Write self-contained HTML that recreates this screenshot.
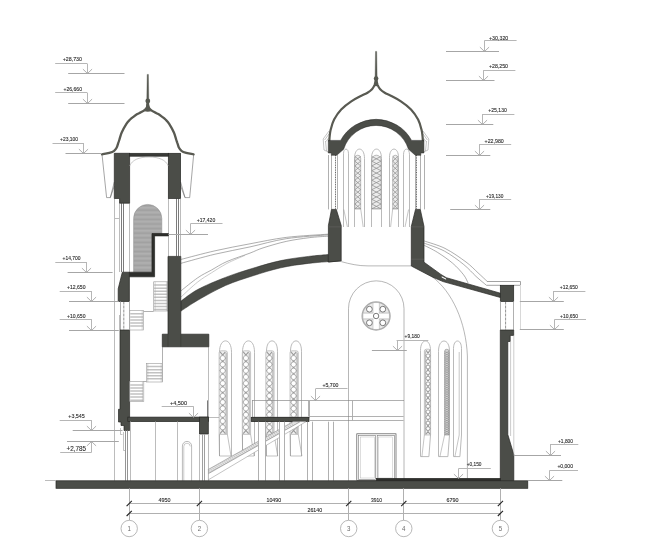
<!DOCTYPE html>
<html lang="ru">
<head>
<meta charset="utf-8">
<title>Section 1-5</title>
<style>
html,body{margin:0;padding:0;background:#fff;}
body{width:650px;height:554px;overflow:hidden;}
svg{display:block;}
svg text{font-family:"Liberation Sans","DejaVu Sans",sans-serif;}
</style>
</head>
<body>
<svg width="650" height="554" viewBox="0 0 650 554">
<rect x="0" y="0" width="650" height="554" fill="#fff"/>
<line x1="114.5" y1="198.5" x2="114.5" y2="480.8" stroke="#bcbcbc" stroke-width="1" />
<line x1="119.5" y1="198.5" x2="119.5" y2="272.0" stroke="#bcbcbc" stroke-width="1" />
<line x1="121.5" y1="203.2" x2="121.5" y2="272.0" stroke="#7c7c7c" stroke-width="1" />
<line x1="123.5" y1="203.2" x2="123.5" y2="272.0" stroke="#7c7c7c" stroke-width="1" />
<line x1="129.5" y1="203.2" x2="129.5" y2="272.0" stroke="#bcbcbc" stroke-width="1" />
<line x1="114.6" y1="218.5" x2="119.6" y2="218.5" stroke="#bcbcbc" stroke-width="1" />
<line x1="168.5" y1="198.5" x2="168.5" y2="256.4" stroke="#bcbcbc" stroke-width="1" />
<line x1="180.5" y1="198.5" x2="180.5" y2="256.4" stroke="#bcbcbc" stroke-width="1" />
<line x1="176.5" y1="198.5" x2="176.5" y2="256.4" stroke="#7c7c7c" stroke-width="1" />
<line x1="178.5" y1="198.5" x2="178.5" y2="256.4" stroke="#7c7c7c" stroke-width="1" />
<path d="M102,154.3 L106.6,197.6 L110.3,197.6 L114.3,182 M114.3,186 L110.3,197.6" fill="none" stroke="#6a6a6a" stroke-width="0.6" />
<path d="M193.7,154.3 L189.7,197.6 L185,197.6 L180.6,182 M180.6,186 L185,197.6" fill="none" stroke="#6a6a6a" stroke-width="0.6" />
<path d="M102.0,154.3 C103.2,154.1 107.4,153.5 109.4,152.9 C111.4,152.3 113.0,151.7 114.2,150.8 C115.4,150.0 115.9,149.1 116.6,147.8 C117.3,146.5 117.8,144.4 118.2,143.1 C118.7,141.8 118.7,141.8 119.3,140.0 C119.9,138.2 120.5,135.2 121.7,132.5 C122.9,129.8 125.0,126.0 126.4,123.8 C127.8,121.6 128.9,120.7 130.1,119.5 C131.3,118.3 132.5,117.5 133.7,116.6 C134.9,115.7 136.1,114.8 137.3,114.1 C138.5,113.4 139.7,113.0 140.9,112.3 C142.1,111.6 143.5,110.9 144.5,110.1 C145.5,109.3 146.2,108.5 146.8,107.5 C147.4,106.5 147.6,104.6 147.8,104.0 " fill="none" stroke="#595a52" stroke-width="2.3" stroke-linecap="round"/>
<path d="M147.8,104.0 C148.0,104.6 148.2,106.5 148.8,107.5 C149.4,108.5 150.1,109.3 151.1,110.1 C152.1,110.9 153.5,111.6 154.7,112.3 C155.9,113.0 157.1,113.4 158.3,114.1 C159.5,114.8 160.7,115.7 161.9,116.6 C163.1,117.5 164.3,118.3 165.5,119.5 C166.7,120.7 167.8,121.6 169.2,123.8 C170.6,126.0 172.7,129.8 173.9,132.5 C175.1,135.2 175.7,138.2 176.3,140.0 C176.9,141.8 177.0,141.8 177.4,143.1 C177.9,144.4 178.3,146.5 179.0,147.8 C179.7,149.1 180.2,150.0 181.4,150.8 C182.6,151.7 184.2,152.3 186.2,152.9 C188.2,153.5 192.4,154.1 193.6,154.3 " fill="none" stroke="#595a52" stroke-width="2.3" stroke-linecap="round"/>
<path d="M143.60000000000002,111.0 Q146.8,108.6 146.9,102 L148.70000000000002,102 Q148.8,108.6 152.0,111.0 Q147.8,112.4 143.60000000000002,111.0 Z" fill="#595a52" stroke="none" stroke-width="0" />
<path d="M147.20000000000002,74.4 L148.4,74.4 L148.8,99 L149.10000000000002,110 L146.5,110 L146.8,99 Z" fill="#565850" stroke="#565850" stroke-width="0.4" />
<circle cx="147.8" cy="101" r="2.4" fill="#565850"/>
<polygon points="114.3,153.3 129.6,153.3 129.6,203.2 119.6,203.2 119.6,198.5 114.3,198.5" fill="#4b4d48" stroke="#262724" stroke-width="0.7" />
<rect x="168.3" y="153.3" width="12.3" height="45.2" fill="#4b4d48" stroke="#262724" stroke-width="0.7"/>
<rect x="129.6" y="153.3" width="38.7" height="2.9" fill="#3a3b38" stroke="#262724" stroke-width="0.7"/>
<path d="M129.6,166 C132,160 139,157 149,157 C159,157 166,160 168.3,166" fill="none" stroke="#a8a8a8" stroke-width="0.6" />
<defs><pattern id="gh" width="4" height="4.6" patternUnits="userSpaceOnUse"><rect width="4" height="4.6" fill="#a7a7a7"/><rect y="0" width="4" height="1.6" fill="#b0b0b0"/><rect y="2.8" width="4" height="0.9" fill="#a0a0a0"/></pattern></defs>
<path d="M133.6,272.2 L133.6,218.5 A14.1,14.1 0 0 1 161.8,218.5 L161.8,233.7 L152,233.7 L152,272.2 Z" fill="url(#gh)" stroke="#8a8a8a" stroke-width="0.5" />
<polygon points="152.0,233.5 168.4,233.5 168.4,235.9 154.6,235.9 154.6,276.8 129.4,276.8 129.4,272.2 152.0,272.2" fill="#2e2f2c" stroke="#262724" stroke-width="0.7" />
<polygon points="122.3,272.2 129.4,272.2 129.4,301.5 118.2,301.5 118.2,288.8" fill="#4b4d48" stroke="#262724" stroke-width="0.7" />
<line x1="120.5" y1="301.5" x2="120.5" y2="330.0" stroke="#b0b0b0" stroke-width="1" />
<line x1="129.5" y1="301.5" x2="129.5" y2="330.0" stroke="#b0b0b0" stroke-width="1" />
<line x1="123.8" y1="301.5" x2="123.8" y2="330.0" stroke="#444" stroke-width="0.6" stroke-dasharray="3 1"/>
<line x1="119.5" y1="315.0" x2="119.5" y2="330.0" stroke="#bcbcbc" stroke-width="1" />
<polygon points="120.0,330.0 129.6,330.0 129.6,430.5 124.0,430.5 124.0,425.5 121.0,425.5 121.0,422.0 118.5,422.0 118.5,409.3 120.0,409.3" fill="#4b4d48" stroke="#262724" stroke-width="0.7" />
<rect x="153.7" y="281.8" width="14.1" height="29.2" fill="#fff" stroke="#999" stroke-width="0.6"/>
<path d="M154.1,285.1 H167.4 M154.1,288.2 H167.4 M154.1,291.2 H167.4 M154.1,294.3 H167.4 M154.1,297.3 H167.4 M154.1,300.4 H167.4 M154.1,303.4 H167.4 M154.1,306.5 H167.4 M154.1,309.5 H167.4 " fill="none" stroke="#c2c2c2" stroke-width="1.5" />
<path d="M166.4,281.8 V311.0" fill="none" stroke="#aaa" stroke-width="0.5" />
<path d="M155.1,281.8 V311.0" fill="none" stroke="#aaa" stroke-width="0.5" />
<rect x="129.8" y="310.5" width="13.8" height="19.5" fill="#fff" stroke="#999" stroke-width="0.6"/>
<path d="M130.2,313.8 H143.2 M130.2,316.9 H143.2 M130.2,319.9 H143.2 M130.2,323.0 H143.2 M130.2,326.0 H143.2 " fill="none" stroke="#c2c2c2" stroke-width="1.5" />
<path d="M142.2,310.5 V330.0" fill="none" stroke="#aaa" stroke-width="0.5" />
<rect x="146.4" y="363.3" width="16.2" height="18.7" fill="#fff" stroke="#999" stroke-width="0.6"/>
<path d="M146.8,366.6 H162.2 M146.8,369.7 H162.2 M146.8,372.7 H162.2 M146.8,375.8 H162.2 M146.8,378.8 H162.2 " fill="none" stroke="#c2c2c2" stroke-width="1.5" />
<path d="M161.2,363.3 V382.0" fill="none" stroke="#aaa" stroke-width="0.5" />
<path d="M147.8,363.3 V382.0" fill="none" stroke="#aaa" stroke-width="0.5" />
<rect x="129.8" y="381.6" width="14.0" height="19.8" fill="#fff" stroke="#999" stroke-width="0.6"/>
<path d="M130.2,384.9 H143.4 M130.2,388.0 H143.4 M130.2,391.0 H143.4 M130.2,394.1 H143.4 M130.2,397.1 H143.4 M130.2,400.2 H143.4 " fill="none" stroke="#c2c2c2" stroke-width="1.5" />
<path d="M142.4,381.6 V401.4" fill="none" stroke="#aaa" stroke-width="0.5" />
<line x1="162.5" y1="346.8" x2="162.5" y2="381.8" stroke="#b0b0b0" stroke-width="1" />
<line x1="208.5" y1="346.8" x2="208.5" y2="417.0" stroke="#bcbcbc" stroke-width="1" />
<line x1="207.5" y1="400.4" x2="207.5" y2="417.0" stroke="#7c7c7c" stroke-width="1" />
<line x1="208.8" y1="417.5" x2="219.0" y2="417.5" stroke="#bcbcbc" stroke-width="1" />
<line x1="143.4" y1="311.5" x2="153.7" y2="311.5" stroke="#b0b0b0" stroke-width="1" />
<line x1="143.8" y1="381.5" x2="146.8" y2="381.5" stroke="#b0b0b0" stroke-width="1" />
<path d="M181.0,259.4 C186.7,258.0 203.5,253.4 215.0,250.8 C226.5,248.2 238.1,246.0 250.0,243.8 C261.9,241.6 273.2,239.0 286.2,237.4 C299.2,235.8 321.0,234.7 328.0,234.2 " fill="none" stroke="#6a6a6a" stroke-width="0.55" />
<path d="M181.0,263.3 C186.7,261.8 203.5,256.9 215.0,254.2 C226.5,251.5 238.1,249.5 250.0,246.9 C261.9,244.3 273.2,240.7 286.2,238.7 C299.2,236.7 321.0,235.5 328.0,234.9 " fill="none" stroke="#6a6a6a" stroke-width="0.55" />
<path d="M181.0,290.8 C183.8,288.6 192.6,281.3 197.7,277.8 C202.8,274.3 206.6,272.7 211.5,270.0 C216.4,267.3 220.6,264.3 227.0,261.5 C233.4,258.7 244.0,255.4 250.0,253.1 C256.0,250.8 257.0,249.8 263.0,247.9 C269.0,246.0 278.5,243.1 286.2,241.4 C293.9,239.7 302.2,238.6 309.2,237.7 C316.2,236.8 324.9,236.4 328.0,236.2 " fill="none" stroke="#6a6a6a" stroke-width="0.55" />
<path d="M181.0,297.0 C183.8,294.5 192.6,286.0 197.7,282.0 C202.8,278.0 206.6,275.9 211.5,272.8 C216.4,269.7 221.4,266.3 227.0,263.4 C232.6,260.5 242.0,256.7 245.0,255.4 " fill="none" stroke="#a8a8a8" stroke-width="0.6" />
<path d="M180.8,301.2 C183.6,299.2 190.3,293.5 197.7,289.5 C205.1,285.5 216.2,280.9 225.4,277.4 C234.6,273.8 243.8,271.0 253.0,268.2 C262.2,265.4 271.6,262.6 280.8,260.6 C290.1,258.6 300.6,257.4 308.5,256.4 C316.4,255.4 325.1,254.9 328.4,254.6 L328.4,262 L341.2,260.8 C335.8,261.2 318.6,262.2 308.5,263.4 C298.4,264.6 290.1,265.7 280.8,267.8 C271.6,269.9 262.2,272.8 253.0,275.8 C243.8,278.8 234.6,281.5 225.4,285.6 C216.2,289.7 205.1,296.0 197.7,300.3 C190.3,304.6 183.6,309.4 180.8,311.2 Z" fill="#4b4d48" stroke="#262724" stroke-width="0.5" />
<polygon points="168.0,256.4 180.8,256.4 180.8,334.2 208.8,334.2 208.8,346.8 162.3,346.8 162.3,334.2 168.0,334.2" fill="#4b4d48" stroke="#262724" stroke-width="0.7" />
<path d="M168,334.2 V346.8 M180.8,334.2 V346.8" fill="none" stroke="#35362f" stroke-width="0.5" />
<rect x="127.8" y="417.1" width="80.5" height="4.5" fill="#4b4d48" stroke="#262724" stroke-width="0.7"/>
<rect x="199.4" y="417.1" width="8.9" height="16.9" fill="#4b4d48" stroke="#262724" stroke-width="0.7"/>
<line x1="125.5" y1="430.5" x2="125.5" y2="480.8" stroke="#959595" stroke-width="1" />
<line x1="127.5" y1="430.5" x2="127.5" y2="480.8" stroke="#959595" stroke-width="1" />
<path d="M120.5,428 V434.5 H122.5 M123.5,432 V450.5 H125" fill="none" stroke="#9a9a9a" stroke-width="0.6" />
<line x1="130.5" y1="421.6" x2="130.5" y2="480.8" stroke="#bcbcbc" stroke-width="1" />
<line x1="155.5" y1="421.6" x2="155.5" y2="480.8" stroke="#bcbcbc" stroke-width="1" />
<line x1="177.5" y1="421.6" x2="177.5" y2="480.8" stroke="#bcbcbc" stroke-width="1" />
<line x1="199.5" y1="434.0" x2="199.5" y2="480.8" stroke="#bcbcbc" stroke-width="1" />
<line x1="208.5" y1="434.0" x2="208.5" y2="480.8" stroke="#bcbcbc" stroke-width="1" />
<line x1="202.5" y1="434.0" x2="202.5" y2="480.8" stroke="#a0a0a0" stroke-width="1" />
<line x1="204.5" y1="434.0" x2="204.5" y2="480.8" stroke="#a0a0a0" stroke-width="1" />
<path d="M182.4,480.8 L182.4,446 A4.6,4.6 0 0 1 191.6,446 L191.6,480.8" fill="none" stroke="#8c8c8c" stroke-width="0.6" />
<path d="M183.8,480.8 L183.8,446.4 A3.2,3.2 0 0 1 190.2,446.4" fill="none" stroke="#a8a8a8" stroke-width="0.6" />
<path d="M219.5,456.0 L219.5,352.3 C219.5,344.9 222.2,340.9 225.5,340.9 C228.8,340.9 231.5,344.9 231.5,352.3 L231.5,456.0" fill="none" stroke="#b2b2b2" stroke-width="0.9" />
<path d="M219.1,434.4 L219.1,352.8 A2.0,2.0 0 0 1 221.1,350.8 H225.4 A2.0,2.0 0 0 1 227.4,352.8 L227.4,434.4 Z" fill="#f1f1f1" stroke="#a4a4a4" stroke-width="0.6" />
<rect x="225.4" y="352.8" width="1.7" height="81.6" fill="#c2c2c2"/>
<path d="M220.0,351.8 L225.4,358.1 L220.0,364.4 L225.4,370.7 L220.0,377.0 L225.4,383.3 L220.0,389.6 L225.4,395.8 L220.0,402.1 L225.4,408.4 L220.0,414.7 L225.4,421.0 L220.0,427.3 L225.4,433.6 M225.4,351.8 L220.0,358.1 L225.4,364.4 L220.0,370.7 L225.4,377.0 L220.0,383.3 L225.4,389.6 L220.0,395.8 L225.4,402.1 L220.0,408.4 L225.4,414.7 L220.0,421.0 L225.4,427.3 L220.0,433.6 " fill="none" stroke="#9a9a9a" stroke-width="1.1" stroke-linejoin="round"/>
<circle cx="222.70" cy="358.09" r="2.50" fill="#fff" stroke="#9c9c9c" stroke-width="0.6"/>
<circle cx="222.70" cy="364.38" r="2.50" fill="#fff" stroke="#9c9c9c" stroke-width="0.6"/>
<circle cx="222.70" cy="370.68" r="2.50" fill="#fff" stroke="#9c9c9c" stroke-width="0.6"/>
<circle cx="222.70" cy="376.97" r="2.50" fill="#fff" stroke="#9c9c9c" stroke-width="0.6"/>
<circle cx="222.70" cy="383.26" r="2.50" fill="#fff" stroke="#9c9c9c" stroke-width="0.6"/>
<circle cx="222.70" cy="389.55" r="2.50" fill="#fff" stroke="#9c9c9c" stroke-width="0.6"/>
<circle cx="222.70" cy="395.85" r="2.50" fill="#fff" stroke="#9c9c9c" stroke-width="0.6"/>
<circle cx="222.70" cy="402.14" r="2.50" fill="#fff" stroke="#9c9c9c" stroke-width="0.6"/>
<circle cx="222.70" cy="408.43" r="2.50" fill="#fff" stroke="#9c9c9c" stroke-width="0.6"/>
<circle cx="222.70" cy="414.72" r="2.50" fill="#fff" stroke="#9c9c9c" stroke-width="0.6"/>
<circle cx="222.70" cy="421.02" r="2.50" fill="#fff" stroke="#9c9c9c" stroke-width="0.6"/>
<circle cx="222.70" cy="427.31" r="2.50" fill="#fff" stroke="#9c9c9c" stroke-width="0.6"/>
<path d="M219.1,434.4 L219.5,456 L231.0,456 L227.4,434.4" fill="none" stroke="#999" stroke-width="0.6" />
<path d="M242.5,456.0 L242.5,352.3 C242.5,344.9 245.2,340.9 248.5,340.9 C251.8,340.9 254.5,344.9 254.5,352.3 L254.5,456.0" fill="none" stroke="#b2b2b2" stroke-width="0.9" />
<path d="M242.3,434.4 L242.3,352.8 A2.0,2.0 0 0 1 244.3,350.8 H248.6 A2.0,2.0 0 0 1 250.6,352.8 L250.6,434.4 Z" fill="#f1f1f1" stroke="#a4a4a4" stroke-width="0.6" />
<rect x="248.6" y="352.8" width="1.7" height="81.6" fill="#c2c2c2"/>
<path d="M243.2,351.8 L248.6,358.1 L243.2,364.4 L248.6,370.7 L243.2,377.0 L248.6,383.3 L243.2,389.6 L248.6,395.8 L243.2,402.1 L248.6,408.4 L243.2,414.7 L248.6,421.0 L243.2,427.3 L248.6,433.6 M248.6,351.8 L243.2,358.1 L248.6,364.4 L243.2,370.7 L248.6,377.0 L243.2,383.3 L248.6,389.6 L243.2,395.8 L248.6,402.1 L243.2,408.4 L248.6,414.7 L243.2,421.0 L248.6,427.3 L243.2,433.6 " fill="none" stroke="#9a9a9a" stroke-width="1.1" stroke-linejoin="round"/>
<circle cx="245.90" cy="358.09" r="2.50" fill="#fff" stroke="#9c9c9c" stroke-width="0.6"/>
<circle cx="245.90" cy="364.38" r="2.50" fill="#fff" stroke="#9c9c9c" stroke-width="0.6"/>
<circle cx="245.90" cy="370.68" r="2.50" fill="#fff" stroke="#9c9c9c" stroke-width="0.6"/>
<circle cx="245.90" cy="376.97" r="2.50" fill="#fff" stroke="#9c9c9c" stroke-width="0.6"/>
<circle cx="245.90" cy="383.26" r="2.50" fill="#fff" stroke="#9c9c9c" stroke-width="0.6"/>
<circle cx="245.90" cy="389.55" r="2.50" fill="#fff" stroke="#9c9c9c" stroke-width="0.6"/>
<circle cx="245.90" cy="395.85" r="2.50" fill="#fff" stroke="#9c9c9c" stroke-width="0.6"/>
<circle cx="245.90" cy="402.14" r="2.50" fill="#fff" stroke="#9c9c9c" stroke-width="0.6"/>
<circle cx="245.90" cy="408.43" r="2.50" fill="#fff" stroke="#9c9c9c" stroke-width="0.6"/>
<circle cx="245.90" cy="414.72" r="2.50" fill="#fff" stroke="#9c9c9c" stroke-width="0.6"/>
<circle cx="245.90" cy="421.02" r="2.50" fill="#fff" stroke="#9c9c9c" stroke-width="0.6"/>
<circle cx="245.90" cy="427.31" r="2.50" fill="#fff" stroke="#9c9c9c" stroke-width="0.6"/>
<path d="M242.3,434.4 L242.7,456 L254.2,456 L250.6,434.4" fill="none" stroke="#999" stroke-width="0.6" />
<path d="M266.5,456.0 L266.5,351.3 C266.5,344.6 269.0,340.9 272.0,340.9 C275.0,340.9 277.5,344.6 277.5,351.3 L277.5,456.0" fill="none" stroke="#b2b2b2" stroke-width="0.9" />
<path d="M265.8,434.4 L265.8,352.8 A2.0,2.0 0 0 1 267.8,350.8 H272.1 A2.0,2.0 0 0 1 274.1,352.8 L274.1,434.4 Z" fill="#f1f1f1" stroke="#a4a4a4" stroke-width="0.6" />
<rect x="272.1" y="352.8" width="1.7" height="81.6" fill="#c2c2c2"/>
<path d="M266.7,351.8 L272.1,358.1 L266.7,364.4 L272.1,370.7 L266.7,377.0 L272.1,383.3 L266.7,389.6 L272.1,395.8 L266.7,402.1 L272.1,408.4 L266.7,414.7 L272.1,421.0 L266.7,427.3 L272.1,433.6 M272.1,351.8 L266.7,358.1 L272.1,364.4 L266.7,370.7 L272.1,377.0 L266.7,383.3 L272.1,389.6 L266.7,395.8 L272.1,402.1 L266.7,408.4 L272.1,414.7 L266.7,421.0 L272.1,427.3 L266.7,433.6 " fill="none" stroke="#9a9a9a" stroke-width="1.1" stroke-linejoin="round"/>
<circle cx="269.40" cy="358.09" r="2.50" fill="#fff" stroke="#9c9c9c" stroke-width="0.6"/>
<circle cx="269.40" cy="364.38" r="2.50" fill="#fff" stroke="#9c9c9c" stroke-width="0.6"/>
<circle cx="269.40" cy="370.68" r="2.50" fill="#fff" stroke="#9c9c9c" stroke-width="0.6"/>
<circle cx="269.40" cy="376.97" r="2.50" fill="#fff" stroke="#9c9c9c" stroke-width="0.6"/>
<circle cx="269.40" cy="383.26" r="2.50" fill="#fff" stroke="#9c9c9c" stroke-width="0.6"/>
<circle cx="269.40" cy="389.55" r="2.50" fill="#fff" stroke="#9c9c9c" stroke-width="0.6"/>
<circle cx="269.40" cy="395.85" r="2.50" fill="#fff" stroke="#9c9c9c" stroke-width="0.6"/>
<circle cx="269.40" cy="402.14" r="2.50" fill="#fff" stroke="#9c9c9c" stroke-width="0.6"/>
<circle cx="269.40" cy="408.43" r="2.50" fill="#fff" stroke="#9c9c9c" stroke-width="0.6"/>
<circle cx="269.40" cy="414.72" r="2.50" fill="#fff" stroke="#9c9c9c" stroke-width="0.6"/>
<circle cx="269.40" cy="421.02" r="2.50" fill="#fff" stroke="#9c9c9c" stroke-width="0.6"/>
<circle cx="269.40" cy="427.31" r="2.50" fill="#fff" stroke="#9c9c9c" stroke-width="0.6"/>
<path d="M265.8,434.4 L266.2,456 L277.7,456 L274.1,434.4" fill="none" stroke="#999" stroke-width="0.6" />
<path d="M290.5,456.0 L290.5,351.3 C290.5,344.6 293.0,340.9 296.0,340.9 C299.0,340.9 301.5,344.6 301.5,351.3 L301.5,456.0" fill="none" stroke="#b2b2b2" stroke-width="0.9" />
<path d="M290.0,434.4 L290.0,352.8 A2.0,2.0 0 0 1 292.0,350.8 H296.3 A2.0,2.0 0 0 1 298.3,352.8 L298.3,434.4 Z" fill="#f1f1f1" stroke="#a4a4a4" stroke-width="0.6" />
<rect x="296.3" y="352.8" width="1.7" height="81.6" fill="#c2c2c2"/>
<path d="M290.9,351.8 L296.3,358.1 L290.9,364.4 L296.3,370.7 L290.9,377.0 L296.3,383.3 L290.9,389.6 L296.3,395.8 L290.9,402.1 L296.3,408.4 L290.9,414.7 L296.3,421.0 L290.9,427.3 L296.3,433.6 M296.3,351.8 L290.9,358.1 L296.3,364.4 L290.9,370.7 L296.3,377.0 L290.9,383.3 L296.3,389.6 L290.9,395.8 L296.3,402.1 L290.9,408.4 L296.3,414.7 L290.9,421.0 L296.3,427.3 L290.9,433.6 " fill="none" stroke="#9a9a9a" stroke-width="1.1" stroke-linejoin="round"/>
<circle cx="293.60" cy="358.09" r="2.50" fill="#fff" stroke="#9c9c9c" stroke-width="0.6"/>
<circle cx="293.60" cy="364.38" r="2.50" fill="#fff" stroke="#9c9c9c" stroke-width="0.6"/>
<circle cx="293.60" cy="370.68" r="2.50" fill="#fff" stroke="#9c9c9c" stroke-width="0.6"/>
<circle cx="293.60" cy="376.97" r="2.50" fill="#fff" stroke="#9c9c9c" stroke-width="0.6"/>
<circle cx="293.60" cy="383.26" r="2.50" fill="#fff" stroke="#9c9c9c" stroke-width="0.6"/>
<circle cx="293.60" cy="389.55" r="2.50" fill="#fff" stroke="#9c9c9c" stroke-width="0.6"/>
<circle cx="293.60" cy="395.85" r="2.50" fill="#fff" stroke="#9c9c9c" stroke-width="0.6"/>
<circle cx="293.60" cy="402.14" r="2.50" fill="#fff" stroke="#9c9c9c" stroke-width="0.6"/>
<circle cx="293.60" cy="408.43" r="2.50" fill="#fff" stroke="#9c9c9c" stroke-width="0.6"/>
<circle cx="293.60" cy="414.72" r="2.50" fill="#fff" stroke="#9c9c9c" stroke-width="0.6"/>
<circle cx="293.60" cy="421.02" r="2.50" fill="#fff" stroke="#9c9c9c" stroke-width="0.6"/>
<circle cx="293.60" cy="427.31" r="2.50" fill="#fff" stroke="#9c9c9c" stroke-width="0.6"/>
<path d="M290.0,434.4 L290.4,456 L301.9,456 L298.3,434.4" fill="none" stroke="#999" stroke-width="0.6" />
<rect x="252.5" y="400.5" width="57.0" height="16.7" fill="none" stroke="#8a8a8a" stroke-width="0.7"/>
<line x1="309.4" y1="400.5" x2="404.0" y2="400.5" stroke="#b0b0b0" stroke-width="1" />
<rect x="251.2" y="417.3" width="57.8" height="4.3" fill="#4b4d48" stroke="#1e1e1c" stroke-width="0.7"/>
<path d="M309.5,416.5 H403.5 M309.5,420.5 H403.5 M352.5,400.5 V420.5 M308.5,400.5 V416.5" fill="none" stroke="#a8a8a8" stroke-width="0.9" />
<polygon points="208.4,469.4 293.2,421.6 300.5,421.6 208.4,473.7" fill="#e2e2e2" stroke="#777" stroke-width="0.5" />
<polygon points="208.4,473.7 300.5,421.6 306.1,421.6 208.4,479.8" fill="#fff" stroke="#888" stroke-width="0.5" />
<path d="M208.4,469.7 l2.4,2.6 M210.3,468.6 l2.4,2.6 M212.3,467.5 l2.4,2.6 M214.2,466.4 l2.4,2.6 M216.1,465.4 l2.4,2.6 M218.0,464.3 l2.4,2.6 M220.0,463.2 l2.4,2.6 M221.9,462.1 l2.4,2.6 M223.8,461.0 l2.4,2.6 M225.7,459.9 l2.4,2.6 M227.7,458.8 l2.4,2.6 M229.6,457.8 l2.4,2.6 M231.5,456.7 l2.4,2.6 M233.5,455.6 l2.4,2.6 M235.4,454.5 l2.4,2.6 M237.3,453.4 l2.4,2.6 M239.2,452.3 l2.4,2.6 M241.2,451.2 l2.4,2.6 M243.1,450.1 l2.4,2.6 M245.0,449.1 l2.4,2.6 M246.9,448.0 l2.4,2.6 M248.9,446.9 l2.4,2.6 M250.8,445.8 l2.4,2.6 M252.7,444.7 l2.4,2.6 M254.7,443.6 l2.4,2.6 M256.6,442.5 l2.4,2.6 M258.5,441.5 l2.4,2.6 M260.4,440.4 l2.4,2.6 M262.4,439.3 l2.4,2.6 M264.3,438.2 l2.4,2.6 M266.2,437.1 l2.4,2.6 M268.1,436.0 l2.4,2.6 M270.1,434.9 l2.4,2.6 M272.0,433.9 l2.4,2.6 M273.9,432.8 l2.4,2.6 M275.9,431.7 l2.4,2.6 M277.8,430.6 l2.4,2.6 M279.7,429.5 l2.4,2.6 M281.6,428.4 l2.4,2.6 M283.6,427.3 l2.4,2.6 M285.5,426.2 l2.4,2.6 M287.4,425.2 l2.4,2.6 M289.3,424.1 l2.4,2.6 M291.3,423.0 l2.4,2.6 " fill="none" stroke="#999" stroke-width="0.4" />
<rect x="258.5" y="422" width="6.7" height="58.8" fill="#fff"/>
<line x1="258.5" y1="421.7" x2="258.5" y2="480.8" stroke="#b0b0b0" stroke-width="1" />
<line x1="265.5" y1="421.7" x2="265.5" y2="480.8" stroke="#b0b0b0" stroke-width="1" />
<rect x="279.5" y="422" width="5.3" height="58.8" fill="#fff"/>
<line x1="279.5" y1="421.7" x2="279.5" y2="480.8" stroke="#b0b0b0" stroke-width="1" />
<line x1="284.5" y1="421.7" x2="284.5" y2="480.8" stroke="#b0b0b0" stroke-width="1" />
<rect x="307.2" y="422" width="5.4" height="58.8" fill="#fff"/>
<line x1="307.5" y1="421.7" x2="307.5" y2="480.8" stroke="#b0b0b0" stroke-width="1" />
<line x1="312.5" y1="421.7" x2="312.5" y2="480.8" stroke="#b0b0b0" stroke-width="1" />
<rect x="328.8" y="422" width="4.8" height="58.8" fill="#fff"/>
<line x1="328.5" y1="421.7" x2="328.5" y2="480.8" stroke="#b0b0b0" stroke-width="1" />
<line x1="333.5" y1="421.7" x2="333.5" y2="480.8" stroke="#b0b0b0" stroke-width="1" />
<path d="M348.5,480.8 L348.5,308.6 A27.75,27.75 0 0 1 404,308.6 L404,480.8" fill="none" stroke="#7a7a7a" stroke-width="0.55" />
<circle cx="376.1" cy="316.0" r="13.9" fill="#e8e8e8" stroke="#acacac" stroke-width="1.5"/>
<rect x="373.15" y="302.80" width="5.9" height="26.4" fill="#fff" stroke="#b0b0b0" stroke-width="0.7"/>
<rect x="362.90" y="313.05" width="26.4" height="5.9" fill="#fff" stroke="#b0b0b0" stroke-width="0.7"/>
<rect x="373.50" y="303.20" width="5.2" height="25.6" fill="#fff"/>
<circle cx="369.4" cy="309.2" r="2.9" fill="#fff" stroke="#6c6c6c" stroke-width="0.9"/>
<circle cx="369.4" cy="322.8" r="2.9" fill="#fff" stroke="#6c6c6c" stroke-width="0.9"/>
<circle cx="382.8" cy="309.2" r="2.9" fill="#fff" stroke="#6c6c6c" stroke-width="0.9"/>
<circle cx="382.8" cy="322.8" r="2.9" fill="#fff" stroke="#6c6c6c" stroke-width="0.9"/>
<circle cx="376.1" cy="316.0" r="2.7" fill="#fff" stroke="#6c6c6c" stroke-width="0.9"/>
<path d="M341.2,261.6 C350,264 358,265.9 368,265.9 L411.2,265.9" fill="none" stroke="#7a7a7a" stroke-width="0.55" />
<path d="M432.4,277 C452,291.5 466,322 467.4,356 L467.4,478.5" fill="none" stroke="#7a7a7a" stroke-width="0.55" />
<path d="M420.5,456.6 L420.5,350.5 C420.5,344.3 422.8,341.0 425.5,341.0 C428.2,341.0 430.5,344.3 430.5,350.5 L430.5,435 L428.9,456.6 Z" fill="none" stroke="#b2b2b2" stroke-width="0.9" />
<path d="M424.4,435.0 L424.4,351.2 A2.0,2.0 0 0 1 426.4,349.2 H428.6 A2.0,2.0 0 0 1 430.6,351.2 L430.6,435.0 Z" fill="#f1f1f1" stroke="#a4a4a4" stroke-width="0.6" />
<rect x="424.7" y="351.2" width="1.3" height="83.8" fill="#c2c2c2"/>
<path d="M426.0,350.2 L430.0,355.8 L426.0,361.4 L430.0,367.0 L426.0,372.6 L430.0,378.2 L426.0,383.8 L430.0,389.4 L426.0,395.0 L430.0,400.6 L426.0,406.2 L430.0,411.8 L426.0,417.4 L430.0,423.0 L426.0,428.6 L430.0,434.2 M430.0,350.2 L426.0,355.8 L430.0,361.4 L426.0,367.0 L430.0,372.6 L426.0,378.2 L430.0,383.8 L426.0,389.4 L430.0,395.0 L426.0,400.6 L430.0,406.2 L426.0,411.8 L430.0,417.4 L426.0,423.0 L430.0,428.6 L426.0,434.2 " fill="none" stroke="#9a9a9a" stroke-width="1.1" stroke-linejoin="round"/>
<circle cx="428.00" cy="355.80" r="1.80" fill="#fff" stroke="#9c9c9c" stroke-width="0.6"/>
<circle cx="428.00" cy="361.40" r="1.80" fill="#fff" stroke="#9c9c9c" stroke-width="0.6"/>
<circle cx="428.00" cy="367.00" r="1.80" fill="#fff" stroke="#9c9c9c" stroke-width="0.6"/>
<circle cx="428.00" cy="372.60" r="1.80" fill="#fff" stroke="#9c9c9c" stroke-width="0.6"/>
<circle cx="428.00" cy="378.20" r="1.80" fill="#fff" stroke="#9c9c9c" stroke-width="0.6"/>
<circle cx="428.00" cy="383.80" r="1.80" fill="#fff" stroke="#9c9c9c" stroke-width="0.6"/>
<circle cx="428.00" cy="389.40" r="1.80" fill="#fff" stroke="#9c9c9c" stroke-width="0.6"/>
<circle cx="428.00" cy="395.00" r="1.80" fill="#fff" stroke="#9c9c9c" stroke-width="0.6"/>
<circle cx="428.00" cy="400.60" r="1.80" fill="#fff" stroke="#9c9c9c" stroke-width="0.6"/>
<circle cx="428.00" cy="406.20" r="1.80" fill="#fff" stroke="#9c9c9c" stroke-width="0.6"/>
<circle cx="428.00" cy="411.80" r="1.80" fill="#fff" stroke="#9c9c9c" stroke-width="0.6"/>
<circle cx="428.00" cy="417.40" r="1.80" fill="#fff" stroke="#9c9c9c" stroke-width="0.6"/>
<circle cx="428.00" cy="423.00" r="1.80" fill="#fff" stroke="#9c9c9c" stroke-width="0.6"/>
<circle cx="428.00" cy="428.60" r="1.80" fill="#fff" stroke="#9c9c9c" stroke-width="0.6"/>
<path d="M424.4,435 L421.9,456.6" fill="none" stroke="#8c8c8c" stroke-width="0.5" />
<path d="M438.5,456.6 L438.5,351.4 C438.5,344.7 441.0,341.0 444.0,341.0 C447.0,341.0 449.5,344.7 449.5,351.4 L449.5,435 L447.9,456.6 Z" fill="none" stroke="#b2b2b2" stroke-width="0.9" />
<path d="M444.6,435.0 L444.6,351.4 A2.2,2.2 0 0 1 449.0,351.4 L449.0,435.0 Z" fill="#d4d4d4" stroke="#777" stroke-width="0.5" />
<path d="M444.6,351.4 L449.0,353.4 M449.0,351.4 L444.6,353.4 M444.6,353.6 L449.0,355.6 M449.0,353.6 L444.6,355.6 M444.6,355.8 L449.0,357.8 M449.0,355.8 L444.6,357.8 M444.6,358.0 L449.0,360.0 M449.0,358.0 L444.6,360.0 M444.6,360.2 L449.0,362.2 M449.0,360.2 L444.6,362.2 M444.6,362.4 L449.0,364.4 M449.0,362.4 L444.6,364.4 M444.6,364.6 L449.0,366.6 M449.0,364.6 L444.6,366.6 M444.6,366.8 L449.0,368.8 M449.0,366.8 L444.6,368.8 M444.6,369.0 L449.0,371.0 M449.0,369.0 L444.6,371.0 M444.6,371.2 L449.0,373.2 M449.0,371.2 L444.6,373.2 M444.6,373.4 L449.0,375.4 M449.0,373.4 L444.6,375.4 M444.6,375.6 L449.0,377.6 M449.0,375.6 L444.6,377.6 M444.6,377.8 L449.0,379.8 M449.0,377.8 L444.6,379.8 M444.6,380.0 L449.0,382.0 M449.0,380.0 L444.6,382.0 M444.6,382.2 L449.0,384.2 M449.0,382.2 L444.6,384.2 M444.6,384.4 L449.0,386.4 M449.0,384.4 L444.6,386.4 M444.6,386.6 L449.0,388.6 M449.0,386.6 L444.6,388.6 M444.6,388.8 L449.0,390.8 M449.0,388.8 L444.6,390.8 M444.6,391.0 L449.0,393.0 M449.0,391.0 L444.6,393.0 M444.6,393.2 L449.0,395.2 M449.0,393.2 L444.6,395.2 M444.6,395.4 L449.0,397.4 M449.0,395.4 L444.6,397.4 M444.6,397.6 L449.0,399.6 M449.0,397.6 L444.6,399.6 M444.6,399.8 L449.0,401.8 M449.0,399.8 L444.6,401.8 M444.6,402.0 L449.0,404.0 M449.0,402.0 L444.6,404.0 M444.6,404.2 L449.0,406.2 M449.0,404.2 L444.6,406.2 M444.6,406.4 L449.0,408.4 M449.0,406.4 L444.6,408.4 M444.6,408.6 L449.0,410.6 M449.0,408.6 L444.6,410.6 M444.6,410.8 L449.0,412.8 M449.0,410.8 L444.6,412.8 M444.6,413.0 L449.0,415.0 M449.0,413.0 L444.6,415.0 M444.6,415.2 L449.0,417.2 M449.0,415.2 L444.6,417.2 M444.6,417.4 L449.0,419.4 M449.0,417.4 L444.6,419.4 M444.6,419.6 L449.0,421.6 M449.0,419.6 L444.6,421.6 M444.6,421.8 L449.0,423.8 M449.0,421.8 L444.6,423.8 M444.6,424.0 L449.0,426.0 M449.0,424.0 L444.6,426.0 M444.6,426.2 L449.0,428.2 M449.0,426.2 L444.6,428.2 M444.6,428.4 L449.0,430.4 M449.0,428.4 L444.6,430.4 M444.6,430.6 L449.0,432.6 M449.0,430.6 L444.6,432.6 M444.6,432.8 L449.0,434.8 M449.0,432.8 L444.6,434.8 " fill="none" stroke="#777" stroke-width="0.4" />
<path d="M444.6,435 L439.9,456.6" fill="none" stroke="#8c8c8c" stroke-width="0.5" />
<path d="M453.5,456.6 L453.5,348.6 C453.5,343.7 455.3,341.0 457.5,341.0 C459.7,341.0 461.5,343.7 461.5,348.6 L461.5,435 L459.9,456.6 Z" fill="none" stroke="#b2b2b2" stroke-width="0.9" />
<path d="M459.2,352 V435" fill="none" stroke="#8c8c8c" stroke-width="0.5" />
<path d="M459.2,435 L454.9,456.6" fill="none" stroke="#8c8c8c" stroke-width="0.5" />
<rect x="356.8" y="433.8" width="39.2" height="46.8" fill="#fff" stroke="#555" stroke-width="0.7"/>
<rect x="358.4" y="435.4" width="17.2" height="44.0" fill="none" stroke="#777" stroke-width="0.6"/>
<rect x="377.2" y="435.4" width="17.2" height="44.0" fill="none" stroke="#777" stroke-width="0.6"/>
<rect x="360.2" y="437.0" width="14.0" height="41.0" fill="none" stroke="#aaa" stroke-width="0.4"/>
<rect x="378.8" y="437.0" width="14.0" height="41.0" fill="none" stroke="#aaa" stroke-width="0.4"/>
<path d="M343.5,227.0 L343.5,153.8 C343.5,150.8 344.6,149.1 346.0,149.1 C347.4,149.1 348.5,150.8 348.5,153.8 L348.5,227.0" fill="none" stroke="#b2b2b2" stroke-width="0.9" />
<path d="M343.8,209.5 L347.4,227" fill="none" stroke="#8c8c8c" stroke-width="0.5" />
<path d="M354.5,227.0 L354.5,158.6 C354.5,152.4 356.8,149.1 359.5,149.1 C362.2,149.1 364.5,152.4 364.5,158.6 L364.5,227.0" fill="none" stroke="#b2b2b2" stroke-width="0.9" />
<path d="M354.9,208.8 L354.9,158.1 A2.9,2.9 0 0 1 357.8,155.2 H357.8 A2.9,2.9 0 0 1 360.7,158.1 L360.7,208.8 Z" fill="#ececec" stroke="#8a8a8a" stroke-width="0.55" />
<path d="M354.9,156.4 L360.7,161.2 L354.9,165.9 L360.7,170.7 L354.9,175.5 L360.7,180.2 L354.9,185.0 L360.7,189.7 L354.9,194.5 L360.7,199.3 L354.9,204.0 L360.7,208.8 M360.7,156.4 L354.9,161.2 L360.7,165.9 L354.9,170.7 L360.7,175.5 L354.9,180.2 L360.7,185.0 L354.9,189.7 L360.7,194.5 L354.9,199.3 L360.7,204.0 L354.9,208.8 " fill="none" stroke="#8f8f8f" stroke-width="0.75" stroke-linejoin="round"/>
<path d="M360.7,208.8 L363.2,227 M354.9,208.8 H360.7" fill="none" stroke="#8c8c8c" stroke-width="0.5" />
<path d="M371.5,227.0 L371.5,158.6 C371.5,152.4 373.8,149.1 376.5,149.1 C379.2,149.1 381.5,152.4 381.5,158.6 L381.5,227.0" fill="none" stroke="#b2b2b2" stroke-width="0.9" />
<path d="M371.8,208.8 L371.8,159.8 A4.6,4.6 0 0 1 376.4,155.2 H376.4 A4.6,4.6 0 0 1 381.0,159.8 L381.0,208.8 Z" fill="#ececec" stroke="#8a8a8a" stroke-width="0.55" />
<path d="M371.8,156.4 L381.0,161.2 L371.8,165.9 L381.0,170.7 L371.8,175.5 L381.0,180.2 L371.8,185.0 L381.0,189.7 L371.8,194.5 L381.0,199.3 L371.8,204.0 L381.0,208.8 M381.0,156.4 L371.8,161.2 L381.0,165.9 L371.8,170.7 L381.0,175.5 L371.8,180.2 L381.0,185.0 L371.8,189.7 L381.0,194.5 L371.8,199.3 L381.0,204.0 L371.8,208.8 " fill="none" stroke="#8f8f8f" stroke-width="0.75" stroke-linejoin="round"/>
<path d="M371.8,208.8 H381" fill="none" stroke="#8c8c8c" stroke-width="0.5" />
<path d="M389.5,227.0 L389.5,157.7 C389.5,152.1 391.5,149.1 394.0,149.1 C396.5,149.1 398.5,152.1 398.5,157.7 L398.5,227.0" fill="none" stroke="#b2b2b2" stroke-width="0.9" />
<path d="M392.7,208.8 L392.7,157.8 A2.6,2.6 0 0 1 395.2,155.2 H395.2 A2.6,2.6 0 0 1 397.8,157.8 L397.8,208.8 Z" fill="#ececec" stroke="#8a8a8a" stroke-width="0.55" />
<path d="M392.7,156.4 L397.8,161.2 L392.7,165.9 L397.8,170.7 L392.7,175.5 L397.8,180.2 L392.7,185.0 L397.8,189.7 L392.7,194.5 L397.8,199.3 L392.7,204.0 L397.8,208.8 M397.8,156.4 L392.7,161.2 L397.8,165.9 L392.7,170.7 L397.8,175.5 L392.7,180.2 L397.8,185.0 L392.7,189.7 L397.8,194.5 L392.7,199.3 L397.8,204.0 L392.7,208.8 " fill="none" stroke="#8f8f8f" stroke-width="0.75" stroke-linejoin="round"/>
<path d="M392.7,208.8 L390.6,227 M392.7,208.8 H397.8" fill="none" stroke="#8c8c8c" stroke-width="0.5" />
<path d="M403.5,227.0 L403.5,154.8 C403.5,151.1 404.9,149.1 406.5,149.1 C408.1,149.1 409.5,151.1 409.5,154.8 L409.5,227.0" fill="none" stroke="#b2b2b2" stroke-width="0.9" />
<path d="M408.6,209.5 L405,227" fill="none" stroke="#8c8c8c" stroke-width="0.5" />
<line x1="328.5" y1="155.0" x2="328.5" y2="209.4" stroke="#b0b0b0" stroke-width="1" />
<line x1="331.5" y1="155.0" x2="331.5" y2="209.4" stroke="#b0b0b0" stroke-width="1" />
<line x1="337.5" y1="155.0" x2="337.5" y2="209.4" stroke="#b0b0b0" stroke-width="1" />
<line x1="335.5" y1="155.0" x2="335.5" y2="209.4" stroke="#555" stroke-width="0.9" stroke-dasharray="1 0.7"/>
<line x1="415.5" y1="155.0" x2="415.5" y2="209.4" stroke="#b0b0b0" stroke-width="1" />
<line x1="420.5" y1="155.0" x2="420.5" y2="209.4" stroke="#b0b0b0" stroke-width="1" />
<line x1="424.5" y1="155.0" x2="424.5" y2="209.4" stroke="#b0b0b0" stroke-width="1" />
<line x1="416.5" y1="155.0" x2="416.5" y2="209.4" stroke="#555" stroke-width="0.9" stroke-dasharray="1 0.7"/>
<path d="M329,131 L323.2,139 L324,150 L328.3,152 M329,134 L324.6,140 M329,137.5 L326,141.5 M325.5,141 L326.5,151" fill="none" stroke="#888" stroke-width="0.5" />
<path d="M423,131 L428.8,139 L428,150 L423.7,152 M423,134 L427.4,140 M423,137.5 L426,141.5 M426.5,141 L425.5,151" fill="none" stroke="#888" stroke-width="0.5" />
<path d="M329.3,141.0 C329.4,140.2 329.5,137.8 329.7,136.0 C329.9,134.2 329.9,132.8 330.6,130.0 C331.3,127.2 332.3,122.9 334.1,119.5 C335.9,116.1 338.3,112.4 341.2,109.4 C344.1,106.4 347.9,103.6 351.3,101.3 C354.7,99.0 358.7,97.1 361.4,95.7 C364.1,94.3 365.7,93.8 367.5,92.7 C369.3,91.6 370.8,90.5 372.0,89.2 C373.2,87.9 373.9,86.5 374.5,85.1 C375.1,83.6 375.6,81.3 375.8,80.5 " fill="none" stroke="#595a52" stroke-width="2.2" stroke-linecap="round"/>
<path d="M376.4,80.5 C376.6,81.3 377.1,83.6 377.7,85.1 C378.3,86.5 379.0,87.9 380.2,89.2 C381.4,90.5 382.9,91.6 384.7,92.7 C386.5,93.8 388.1,94.3 390.8,95.7 C393.5,97.1 397.5,99.0 400.9,101.3 C404.3,103.6 408.1,106.4 411.0,109.4 C413.9,112.4 416.3,116.1 418.1,119.5 C419.9,122.9 420.9,127.2 421.6,130.0 C422.3,132.8 422.3,134.2 422.5,136.0 C422.7,137.8 422.8,140.2 422.9,141.0 " fill="none" stroke="#595a52" stroke-width="2.2" stroke-linecap="round"/>
<path d="M375.5,51.4 L376.70000000000005,51.4 L377.1,76 L377.40000000000003,86 L374.8,86 L375.1,76 Z" fill="#565850" stroke="#565850" stroke-width="0.4" />
<circle cx="376.1" cy="78.6" r="2.3" fill="#565850"/>
<path d="M328.3,140.4 L340.6,140.4 A40.4,40.4 0 0 1 411.6,140.4 L423.9,140.4 L423.9,153 L420.8,153 L420.8,155.3 L415.4,155.3 L408.5,149.3 A34,34 0 0 0 343.6,149.3 L336.7,155.3 L331.3,155.3 L331.3,153 L328.3,153 Z" fill="#4b4d48" stroke="#262724" stroke-width="0.5" />
<polygon points="331.5,209.4 336.3,209.4 341.2,225.5 341.2,260.8 328.4,262.0 328.4,225.5" fill="#4b4d48" stroke="#262724" stroke-width="0.7" />
<polygon points="415.5,209.4 420.3,209.4 424.0,226.5 424.0,262.2 440.9,274.4 446.3,277.7 500.4,293.2 500.4,297.5 443.1,281.6 432.3,277.0 411.3,266.0 411.3,226.5" fill="#4b4d48" stroke="#262724" stroke-width="0.7" />
<path d="M411.3,226.9 H424 M411.3,259.2 H424 M328.4,226.9 H341.2" fill="none" stroke="#6a6b66" stroke-width="0.5" />
<polygon points="441.6,276.2 446.0,278.5 446.2,279.7 441.8,277.5" fill="#fff" stroke="none" stroke-width="0" />
<path d="M424.0,240.9 C427.5,242.2 438.0,244.9 445.0,248.4 C452.0,251.9 460.5,257.9 466.0,262.0 C471.5,266.1 474.5,269.6 478.0,272.8 C481.5,276.0 485.7,280.0 487.2,281.4 " fill="none" stroke="#6a6a6a" stroke-width="0.55" />
<path d="M424.0,243.1 C427.4,244.4 438.0,247.6 444.6,251.2 C451.2,254.8 458.6,260.4 463.8,264.6 C469.0,268.8 472.2,272.9 476.0,276.4 C479.8,279.9 484.8,283.9 486.6,285.4 " fill="none" stroke="#6a6a6a" stroke-width="0.55" />
<path d="M424.0,245.2 C426.2,246.4 432.6,249.3 437.4,252.3 C442.2,255.3 448.2,259.4 452.6,263.2 C457.0,266.9 461.0,271.5 463.6,274.8 C466.2,278.1 467.4,281.8 468.2,283.2 " fill="none" stroke="#6a6a6a" stroke-width="0.55" />
<path d="M487,281.5 H520.5 V285 M486.6,285.3 H520.5" fill="none" stroke="#8a8a8a" stroke-width="0.8" />
<line x1="520.5" y1="285.0" x2="520.5" y2="330.0" stroke="#d8d8d8" stroke-width="1" />
<rect x="500.3" y="285.5" width="13.4" height="16.0" fill="#4b4d48" stroke="#262724" stroke-width="0.7"/>
<line x1="500.5" y1="301.5" x2="500.5" y2="330.0" stroke="#b0b0b0" stroke-width="1" />
<line x1="513.5" y1="301.5" x2="513.5" y2="330.0" stroke="#b0b0b0" stroke-width="1" />
<line x1="505.6" y1="301.5" x2="505.6" y2="330.0" stroke="#444" stroke-width="0.6" stroke-dasharray="3 1"/>
<polygon points="500.3,330.0 513.7,330.0 513.7,335.4 510.2,335.4 510.2,341.5 507.8,341.5 507.8,434.5 513.8,454.6 513.8,480.8 500.3,480.8" fill="#4b4d48" stroke="#262724" stroke-width="0.7" />
<path d="M510.6,341.5 V436 M513.8,335.4 V454.6" fill="none" stroke="#a8a8a8" stroke-width="0.6" />
<rect x="376.3" y="478.4" width="124.1" height="2.8" fill="#2e2f2c" stroke="#262724" stroke-width="0.7"/>
<rect x="56.0" y="480.8" width="471.8" height="7.5" fill="#4b4d48" stroke="#262724" stroke-width="0.7"/>
<line x1="45.0" y1="480.5" x2="56.0" y2="480.5" stroke="#bcbcbc" stroke-width="1" />
<line x1="129.2" y1="503.5" x2="500.4" y2="503.5" stroke="#b0b0b0" stroke-width="1" />
<line x1="129.2" y1="513.5" x2="500.4" y2="513.5" stroke="#b0b0b0" stroke-width="1" />
<line x1="129.5" y1="488.3" x2="129.5" y2="520.2" stroke="#b0b0b0" stroke-width="1" />
<circle cx="129.2" cy="528.5" r="8.2" fill="#fff" stroke="#9a9a9a" stroke-width="0.7"/>
<path d="M126.6,506.1 L131.8,500.9" fill="none" stroke="#222" stroke-width="1.1" />
<line x1="199.5" y1="488.3" x2="199.5" y2="520.2" stroke="#b0b0b0" stroke-width="1" />
<circle cx="199.4" cy="528.5" r="8.2" fill="#fff" stroke="#9a9a9a" stroke-width="0.7"/>
<path d="M196.8,506.1 L202.0,500.9" fill="none" stroke="#222" stroke-width="1.1" />
<line x1="348.5" y1="488.3" x2="348.5" y2="520.2" stroke="#b0b0b0" stroke-width="1" />
<circle cx="348.7" cy="528.5" r="8.2" fill="#fff" stroke="#9a9a9a" stroke-width="0.7"/>
<path d="M346.1,506.1 L351.3,500.9" fill="none" stroke="#222" stroke-width="1.1" />
<line x1="403.5" y1="488.3" x2="403.5" y2="520.2" stroke="#b0b0b0" stroke-width="1" />
<circle cx="403.8" cy="528.5" r="8.2" fill="#fff" stroke="#9a9a9a" stroke-width="0.7"/>
<path d="M401.2,506.1 L406.4,500.9" fill="none" stroke="#222" stroke-width="1.1" />
<line x1="500.5" y1="488.3" x2="500.5" y2="520.2" stroke="#b0b0b0" stroke-width="1" />
<circle cx="500.4" cy="528.5" r="8.2" fill="#fff" stroke="#9a9a9a" stroke-width="0.7"/>
<path d="M497.8,506.1 L503.0,500.9" fill="none" stroke="#222" stroke-width="1.1" />
<path d="M126.6,516.0 L131.8,510.8" fill="none" stroke="#222" stroke-width="1.1" />
<path d="M497.8,516.0 L503.0,510.8" fill="none" stroke="#222" stroke-width="1.1" />
<line x1="55.2" y1="63.5" x2="87.0" y2="63.5" stroke="#b6b6b6" stroke-width="1" />
<line x1="87.5" y1="63.5" x2="87.5" y2="73.5" stroke="#b6b6b6" stroke-width="1" />
<path d="M82.9,69.1 L87.5,73.5 L92.1,69.1" fill="none" stroke="#9a9a9a" stroke-width="0.8" />
<line x1="68.2" y1="73.5" x2="124.5" y2="73.5" stroke="#a6a6a6" stroke-width="1" />
<line x1="55.2" y1="92.5" x2="87.0" y2="92.5" stroke="#b6b6b6" stroke-width="1" />
<line x1="87.5" y1="92.6" x2="87.5" y2="103.1" stroke="#b6b6b6" stroke-width="1" />
<path d="M82.9,99.1 L87.5,103.5 L92.1,99.1" fill="none" stroke="#9a9a9a" stroke-width="0.8" />
<line x1="68.2" y1="103.5" x2="124.5" y2="103.5" stroke="#a6a6a6" stroke-width="1" />
<line x1="52.5" y1="143.5" x2="83.6" y2="143.5" stroke="#b6b6b6" stroke-width="1" />
<line x1="83.5" y1="143.0" x2="83.5" y2="153.5" stroke="#b6b6b6" stroke-width="1" />
<path d="M78.9,149.1 L83.5,153.5 L88.1,149.1" fill="none" stroke="#9a9a9a" stroke-width="0.8" />
<line x1="65.5" y1="153.5" x2="101.5" y2="153.5" stroke="#a6a6a6" stroke-width="1" />
<line x1="55.3" y1="262.5" x2="86.3" y2="262.5" stroke="#b6b6b6" stroke-width="1" />
<line x1="86.5" y1="262.0" x2="86.5" y2="272.3" stroke="#b6b6b6" stroke-width="1" />
<path d="M81.9,268.1 L86.5,272.5 L91.1,268.1" fill="none" stroke="#9a9a9a" stroke-width="0.8" />
<line x1="67.6" y1="272.5" x2="112.6" y2="272.5" stroke="#a6a6a6" stroke-width="1" />
<line x1="59.7" y1="291.5" x2="91.7" y2="291.5" stroke="#b6b6b6" stroke-width="1" />
<line x1="91.5" y1="291.0" x2="91.5" y2="301.4" stroke="#b6b6b6" stroke-width="1" />
<path d="M86.9,297.1 L91.5,301.5 L96.1,297.1" fill="none" stroke="#9a9a9a" stroke-width="0.8" />
<line x1="69.0" y1="301.5" x2="118.8" y2="301.5" stroke="#a6a6a6" stroke-width="1" />
<line x1="59.7" y1="319.5" x2="91.7" y2="319.5" stroke="#b6b6b6" stroke-width="1" />
<line x1="91.5" y1="319.2" x2="91.5" y2="330.0" stroke="#b6b6b6" stroke-width="1" />
<path d="M86.9,326.1 L91.5,330.5 L96.1,326.1" fill="none" stroke="#9a9a9a" stroke-width="0.8" />
<line x1="69.0" y1="330.5" x2="118.8" y2="330.5" stroke="#a6a6a6" stroke-width="1" />
<line x1="59.7" y1="420.5" x2="91.7" y2="420.5" stroke="#b6b6b6" stroke-width="1" />
<line x1="91.5" y1="420.2" x2="91.5" y2="430.8" stroke="#b6b6b6" stroke-width="1" />
<path d="M86.9,426.1 L91.5,430.5 L96.1,426.1" fill="none" stroke="#9a9a9a" stroke-width="0.8" />
<line x1="72.7" y1="430.5" x2="122.5" y2="430.5" stroke="#a6a6a6" stroke-width="1" />
<line x1="60.2" y1="452.5" x2="91.7" y2="452.5" stroke="#b6b6b6" stroke-width="1" />
<line x1="91.5" y1="452.1" x2="91.5" y2="441.0" stroke="#b6b6b6" stroke-width="1" />
<path d="M86.9,445.9 L91.5,441.5 L96.1,445.9" fill="none" stroke="#9a9a9a" stroke-width="0.8" />
<line x1="67.0" y1="441.5" x2="118.8" y2="441.5" stroke="#a6a6a6" stroke-width="1" />
<line x1="161.7" y1="406.5" x2="193.8" y2="406.5" stroke="#b6b6b6" stroke-width="1" />
<line x1="193.5" y1="406.8" x2="193.5" y2="417.0" stroke="#b6b6b6" stroke-width="1" />
<path d="M188.9,413.1 L193.5,417.5 L198.1,413.1" fill="none" stroke="#9a9a9a" stroke-width="0.8" />
<line x1="190.6" y1="223.5" x2="222.5" y2="223.5" stroke="#b6b6b6" stroke-width="1" />
<line x1="190.5" y1="223.5" x2="190.5" y2="234.2" stroke="#b6b6b6" stroke-width="1" />
<path d="M185.9,230.1 L190.5,234.5 L195.1,230.1" fill="none" stroke="#9a9a9a" stroke-width="0.8" />
<line x1="168.4" y1="234.5" x2="208.0" y2="234.5" stroke="#a6a6a6" stroke-width="1" />
<line x1="315.5" y1="388.5" x2="347.5" y2="388.5" stroke="#b6b6b6" stroke-width="1" />
<line x1="315.5" y1="388.9" x2="315.5" y2="400.0" stroke="#b6b6b6" stroke-width="1" />
<path d="M310.9,396.1 L315.5,400.5 L320.1,396.1" fill="none" stroke="#9a9a9a" stroke-width="0.8" />
<line x1="396.6" y1="340.5" x2="428.3" y2="340.5" stroke="#b6b6b6" stroke-width="1" />
<line x1="397.5" y1="340.0" x2="397.5" y2="350.8" stroke="#b6b6b6" stroke-width="1" />
<path d="M392.9,346.1 L397.5,350.5 L402.1,346.1" fill="none" stroke="#9a9a9a" stroke-width="0.8" />
<line x1="371.9" y1="350.5" x2="406.8" y2="350.5" stroke="#a6a6a6" stroke-width="1" />
<line x1="458.5" y1="468.5" x2="490.8" y2="468.5" stroke="#b6b6b6" stroke-width="1" />
<line x1="458.5" y1="468.6" x2="458.5" y2="478.4" stroke="#b6b6b6" stroke-width="1" />
<path d="M453.9,474.1 L458.5,478.5 L463.1,474.1" fill="none" stroke="#9a9a9a" stroke-width="0.8" />
<line x1="484.6" y1="40.5" x2="516.6" y2="40.5" stroke="#b6b6b6" stroke-width="1" />
<line x1="484.5" y1="40.4" x2="484.5" y2="51.4" stroke="#b6b6b6" stroke-width="1" />
<path d="M479.9,47.1 L484.5,51.5 L489.1,47.1" fill="none" stroke="#9a9a9a" stroke-width="0.8" />
<line x1="446.0" y1="51.5" x2="499.0" y2="51.5" stroke="#a6a6a6" stroke-width="1" />
<line x1="483.4" y1="70.5" x2="515.4" y2="70.5" stroke="#b6b6b6" stroke-width="1" />
<line x1="483.5" y1="70.2" x2="483.5" y2="80.3" stroke="#b6b6b6" stroke-width="1" />
<path d="M478.9,76.1 L483.5,80.5 L488.1,76.1" fill="none" stroke="#9a9a9a" stroke-width="0.8" />
<line x1="446.0" y1="80.5" x2="494.5" y2="80.5" stroke="#a6a6a6" stroke-width="1" />
<line x1="482.2" y1="114.5" x2="514.4" y2="114.5" stroke="#b6b6b6" stroke-width="1" />
<line x1="482.5" y1="114.0" x2="482.5" y2="124.6" stroke="#b6b6b6" stroke-width="1" />
<path d="M477.9,120.1 L482.5,124.5 L487.1,120.1" fill="none" stroke="#9a9a9a" stroke-width="0.8" />
<line x1="446.0" y1="124.5" x2="493.3" y2="124.5" stroke="#a6a6a6" stroke-width="1" />
<line x1="479.2" y1="144.5" x2="511.2" y2="144.5" stroke="#b6b6b6" stroke-width="1" />
<line x1="479.5" y1="144.3" x2="479.5" y2="155.2" stroke="#b6b6b6" stroke-width="1" />
<path d="M474.9,151.1 L479.5,155.5 L484.1,151.1" fill="none" stroke="#9a9a9a" stroke-width="0.8" />
<line x1="446.0" y1="155.5" x2="490.3" y2="155.5" stroke="#a6a6a6" stroke-width="1" />
<line x1="479.2" y1="199.5" x2="511.2" y2="199.5" stroke="#b6b6b6" stroke-width="1" />
<line x1="479.5" y1="199.4" x2="479.5" y2="209.6" stroke="#b6b6b6" stroke-width="1" />
<path d="M474.9,205.1 L479.5,209.5 L484.1,205.1" fill="none" stroke="#9a9a9a" stroke-width="0.8" />
<line x1="450.2" y1="209.5" x2="490.3" y2="209.5" stroke="#a6a6a6" stroke-width="1" />
<line x1="553.0" y1="291.5" x2="585.4" y2="291.5" stroke="#b6b6b6" stroke-width="1" />
<line x1="553.5" y1="291.0" x2="553.5" y2="301.5" stroke="#b6b6b6" stroke-width="1" />
<path d="M548.9,297.1 L553.5,301.5 L558.1,297.1" fill="none" stroke="#9a9a9a" stroke-width="0.8" />
<line x1="519.8" y1="301.5" x2="563.8" y2="301.5" stroke="#a6a6a6" stroke-width="1" />
<line x1="554.6" y1="319.5" x2="586.0" y2="319.5" stroke="#b6b6b6" stroke-width="1" />
<line x1="554.5" y1="319.4" x2="554.5" y2="329.8" stroke="#b6b6b6" stroke-width="1" />
<path d="M549.9,325.1 L554.5,329.5 L559.1,325.1" fill="none" stroke="#9a9a9a" stroke-width="0.8" />
<line x1="519.8" y1="329.5" x2="563.8" y2="329.5" stroke="#a6a6a6" stroke-width="1" />
<line x1="550.0" y1="444.5" x2="578.3" y2="444.5" stroke="#b6b6b6" stroke-width="1" />
<line x1="550.5" y1="444.8" x2="550.5" y2="455.4" stroke="#b6b6b6" stroke-width="1" />
<path d="M545.9,451.1 L550.5,455.5 L555.1,451.1" fill="none" stroke="#9a9a9a" stroke-width="0.8" />
<line x1="513.8" y1="455.5" x2="561.0" y2="455.5" stroke="#a6a6a6" stroke-width="1" />
<line x1="549.5" y1="470.5" x2="578.0" y2="470.5" stroke="#b6b6b6" stroke-width="1" />
<line x1="549.5" y1="470.4" x2="549.5" y2="480.7" stroke="#b6b6b6" stroke-width="1" />
<path d="M544.9,476.1 L549.5,480.5 L554.1,476.1" fill="none" stroke="#9a9a9a" stroke-width="0.8" />
<line x1="527.8" y1="480.5" x2="562.3" y2="480.5" stroke="#a6a6a6" stroke-width="1" />
<g style="filter:grayscale(1)">
<text x="129.2" y="531.3" font-size="8" text-anchor="middle" fill="#6a6a6a" stroke="#6a6a6a" stroke-width="0" font-weight="normal" textLength="3.4" lengthAdjust="spacingAndGlyphs">1</text>
<text x="199.4" y="531.3" font-size="8" text-anchor="middle" fill="#6a6a6a" stroke="#6a6a6a" stroke-width="0" font-weight="normal" textLength="3.4" lengthAdjust="spacingAndGlyphs">2</text>
<text x="348.7" y="531.3" font-size="8" text-anchor="middle" fill="#6a6a6a" stroke="#6a6a6a" stroke-width="0" font-weight="normal" textLength="3.4" lengthAdjust="spacingAndGlyphs">3</text>
<text x="403.8" y="531.3" font-size="8" text-anchor="middle" fill="#6a6a6a" stroke="#6a6a6a" stroke-width="0" font-weight="normal" textLength="3.4" lengthAdjust="spacingAndGlyphs">4</text>
<text x="500.4" y="531.3" font-size="8" text-anchor="middle" fill="#6a6a6a" stroke="#6a6a6a" stroke-width="0" font-weight="normal" textLength="3.4" lengthAdjust="spacingAndGlyphs">5</text>
<text x="164.6" y="501.8" font-size="5.4" text-anchor="middle" fill="#2a2a2a" stroke="#2a2a2a" stroke-width="0.12" font-weight="normal" textLength="12.0" lengthAdjust="spacingAndGlyphs">4950</text>
<text x="273.8" y="501.8" font-size="5.4" text-anchor="middle" fill="#2a2a2a" stroke="#2a2a2a" stroke-width="0.12" font-weight="normal" textLength="14.6" lengthAdjust="spacingAndGlyphs">10490</text>
<text x="376.4" y="501.8" font-size="5.4" text-anchor="middle" fill="#2a2a2a" stroke="#2a2a2a" stroke-width="0.12" font-weight="normal" textLength="11.0" lengthAdjust="spacingAndGlyphs">3910</text>
<text x="452.5" y="501.8" font-size="5.4" text-anchor="middle" fill="#2a2a2a" stroke="#2a2a2a" stroke-width="0.12" font-weight="normal" textLength="12.0" lengthAdjust="spacingAndGlyphs">6790</text>
<text x="314.8" y="511.6" font-size="5.4" text-anchor="middle" fill="#2a2a2a" stroke="#2a2a2a" stroke-width="0.12" font-weight="normal" textLength="14.6" lengthAdjust="spacingAndGlyphs">26140</text>
<text x="62.7" y="61.1" font-size="6.2" text-anchor="start" fill="#2a2a2a" stroke="#2a2a2a" stroke-width="0.12" font-weight="normal" textLength="19.3" lengthAdjust="spacingAndGlyphs">+28,730</text>
<text x="63.5" y="90.8" font-size="6.2" text-anchor="start" fill="#2a2a2a" stroke="#2a2a2a" stroke-width="0.12" font-weight="normal" textLength="18.5" lengthAdjust="spacingAndGlyphs">+26,660</text>
<text x="60.0" y="140.8" font-size="6.2" text-anchor="start" fill="#2a2a2a" stroke="#2a2a2a" stroke-width="0.12" font-weight="normal" textLength="18.0" lengthAdjust="spacingAndGlyphs">+23,100</text>
<text x="62.6" y="259.9" font-size="6.2" text-anchor="start" fill="#2a2a2a" stroke="#2a2a2a" stroke-width="0.12" font-weight="normal" textLength="18.0" lengthAdjust="spacingAndGlyphs">+14,700</text>
<text x="67.0" y="289.3" font-size="6.2" text-anchor="start" fill="#2a2a2a" stroke="#2a2a2a" stroke-width="0.12" font-weight="normal" textLength="18.5" lengthAdjust="spacingAndGlyphs">+12,650</text>
<text x="67.0" y="317.7" font-size="6.2" text-anchor="start" fill="#2a2a2a" stroke="#2a2a2a" stroke-width="0.12" font-weight="normal" textLength="18.5" lengthAdjust="spacingAndGlyphs">+10,650</text>
<text x="68.3" y="418.3" font-size="6.2" text-anchor="start" fill="#2a2a2a" stroke="#2a2a2a" stroke-width="0.12" font-weight="normal" textLength="16.5" lengthAdjust="spacingAndGlyphs">+3,545</text>
<text x="66.5" y="451.4" font-size="7.6" text-anchor="start" fill="#2a2a2a" stroke="#2a2a2a" stroke-width="0.12" font-weight="normal" textLength="19.5" lengthAdjust="spacingAndGlyphs">+2,785</text>
<text x="170.0" y="404.8" font-size="6.2" text-anchor="start" fill="#2a2a2a" stroke="#2a2a2a" stroke-width="0.12" font-weight="normal" textLength="17.0" lengthAdjust="spacingAndGlyphs">+4,500</text>
<text x="196.8" y="221.7" font-size="6.2" text-anchor="start" fill="#2a2a2a" stroke="#2a2a2a" stroke-width="0.12" font-weight="normal" textLength="18.4" lengthAdjust="spacingAndGlyphs">+17,420</text>
<text x="322.4" y="387.3" font-size="6.2" text-anchor="start" fill="#2a2a2a" stroke="#2a2a2a" stroke-width="0.12" font-weight="normal" textLength="16.1" lengthAdjust="spacingAndGlyphs">+5,700</text>
<text x="404.6" y="337.9" font-size="6.2" text-anchor="start" fill="#2a2a2a" stroke="#2a2a2a" stroke-width="0.12" font-weight="normal" textLength="15.1" lengthAdjust="spacingAndGlyphs">+9,180</text>
<text x="466.8" y="466.2" font-size="6.2" text-anchor="start" fill="#2a2a2a" stroke="#2a2a2a" stroke-width="0.12" font-weight="normal" textLength="14.7" lengthAdjust="spacingAndGlyphs">+0,150</text>
<text x="489.0" y="40.3" font-size="6.2" text-anchor="start" fill="#2a2a2a" stroke="#2a2a2a" stroke-width="0.12" font-weight="normal" textLength="19.3" lengthAdjust="spacingAndGlyphs">+30,320</text>
<text x="489.0" y="68.1" font-size="6.2" text-anchor="start" fill="#2a2a2a" stroke="#2a2a2a" stroke-width="0.12" font-weight="normal" textLength="19.0" lengthAdjust="spacingAndGlyphs">+28,250</text>
<text x="488.3" y="112.1" font-size="6.2" text-anchor="start" fill="#2a2a2a" stroke="#2a2a2a" stroke-width="0.12" font-weight="normal" textLength="18.5" lengthAdjust="spacingAndGlyphs">+25,130</text>
<text x="484.6" y="142.5" font-size="6.2" text-anchor="start" fill="#2a2a2a" stroke="#2a2a2a" stroke-width="0.12" font-weight="normal" textLength="19.2" lengthAdjust="spacingAndGlyphs">+22,980</text>
<text x="486.0" y="197.5" font-size="6.2" text-anchor="start" fill="#2a2a2a" stroke="#2a2a2a" stroke-width="0.12" font-weight="normal" textLength="17.4" lengthAdjust="spacingAndGlyphs">+19,130</text>
<text x="559.8" y="289.3" font-size="6.2" text-anchor="start" fill="#2a2a2a" stroke="#2a2a2a" stroke-width="0.12" font-weight="normal" textLength="17.9" lengthAdjust="spacingAndGlyphs">+12,650</text>
<text x="560.0" y="317.7" font-size="6.2" text-anchor="start" fill="#2a2a2a" stroke="#2a2a2a" stroke-width="0.12" font-weight="normal" textLength="18.0" lengthAdjust="spacingAndGlyphs">+10,650</text>
<text x="558.0" y="442.9" font-size="6.2" text-anchor="start" fill="#2a2a2a" stroke="#2a2a2a" stroke-width="0.12" font-weight="normal" textLength="15.0" lengthAdjust="spacingAndGlyphs">+1,800</text>
<text x="557.4" y="468.3" font-size="6.2" text-anchor="start" fill="#2a2a2a" stroke="#2a2a2a" stroke-width="0.12" font-weight="normal" textLength="15.6" lengthAdjust="spacingAndGlyphs">+0,000</text>
</g>
</svg>
</body>
</html>
